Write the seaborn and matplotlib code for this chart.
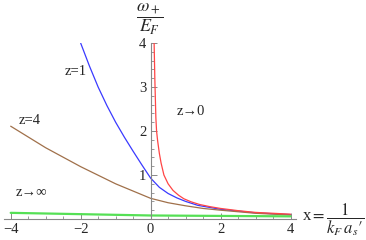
import numpy as np
import pandas as pd
import seaborn as sns
import matplotlib
matplotlib.use('Agg')
import matplotlib.pyplot as plt
from matplotlib.ticker import MultipleLocator

# values
x_z1 = [-2.0, -1.75, -1.5, -1.25, -1.0, -0.75, -0.5, -0.25, 0.0, 0.25, 0.5, 0.75, 1.0, 1.35, 2.0, 3.0, 4.0]
y_z1 = [4.0, 3.48, 3.0, 2.58, 2.2, 1.86, 1.54, 1.23, 0.93, 0.72, 0.58, 0.48, 0.4, 0.31, 0.22, 0.14, 0.1]

x_z4 = [-4.0, -3.0, -2.0, -1.0, 0.0, 0.5, 1.0, 1.5, 2.0, 3.0, 4.0]
y_z4 = [2.11, 1.62, 1.19, 0.8, 0.47, 0.37, 0.3, 0.24, 0.2, 0.13, 0.09]

x_zinf = [-4.0, -2.0, 0.0, 2.0, 4.0]
y_zinf = [0.14, 0.11, 0.08, 0.07, 0.06]

x_z0 = [0.1, 0.12, 0.15, 0.17, 0.2, 0.25, 0.3, 0.38, 0.5, 0.64, 0.8, 0.95, 1.16, 1.4, 1.7, 2.0, 2.5, 3.0, 4.0]
y_z0 = [4.0, 3.2, 2.3, 2.0, 1.78, 1.49, 1.27, 1.0, 0.8, 0.65, 0.54, 0.46, 0.39, 0.33, 0.28, 0.24, 0.19, 0.15, 0.11]

x_ticks = [-4, -2, 0, 2, 4]
x_ticklabels = ['\u22124', '\u22122', '0', '2', '4']
y_ticks = [1, 2, 3, 4]

curves = {
    'z=1': (x_z1, y_z1),
    'z=4': (x_z4, y_z4),
    'zinf': (x_zinf, y_zinf),
    'z0': (x_z0, y_z0),
}
frames = []
for name, (xs, ys) in curves.items():
    frames.append(pd.DataFrame({'x': xs, 'y': ys, 'curve': name}))
df = pd.concat(frames, ignore_index=True)

palette = {'z=1': '#3a3aff', 'z=4': '#a0704a', 'zinf': '#55e055', 'z0': '#ff4545'}

sns.set_style('white')
plt.rcParams['font.family'] = ['Liberation Serif', 'DejaVu Serif']
plt.rcParams['mathtext.fontset'] = 'stix'

fig = plt.figure(figsize=(3.66, 2.4), dpi=100)
ax = fig.add_axes([0.0101, 0.0875, 0.800, 0.733])

sns.lineplot(data=df[df.curve != 'zinf'], x='x', y='y', hue='curve', palette=palette,
             linewidth=0.9, legend=False, ax=ax, estimator=None)
sns.lineplot(data=df[df.curve == 'zinf'], x='x', y='y', color=palette['zinf'],
             linewidth=1.6, legend=False, ax=ax, estimator=None)

ax.set_xlim(-4.2, 4.17)
ax.set_ylim(0, 4.0)
ax.set_xlabel('')
ax.set_ylabel('')

for side in ['top', 'right']:
    ax.spines[side].set_visible(False)
ax.spines['left'].set_position(('data', 0))
ax.spines['bottom'].set_position(('data', 0))
for side in ['left', 'bottom']:
    ax.spines[side].set_color('#888888')
    ax.spines[side].set_linewidth(0.8)

ax.set_xticks(x_ticks)
ax.set_xticklabels(x_ticklabels)
ax.set_yticks(y_ticks)
ax.xaxis.set_minor_locator(MultipleLocator(0.5))
ax.yaxis.set_minor_locator(MultipleLocator(0.2))
ax.tick_params(which='major', direction='in', length=4, width=0.7, color='#888888',
               labelsize=10.5, pad=3)
ax.tick_params(which='minor', direction='in', length=2, width=0.6, color='#888888')
ax.tick_params(axis='both', which='both', bottom=True, left=True)

fs = 10.5
ax.text(-2.15, 3.35, 'z=1', fontsize=fs, ha='center', va='center')
ax.text(-3.45, 2.25, 'z=4', fontsize=fs, ha='center', va='center')
ax.text(-3.4, 0.6, 'z\u2192\u221e', fontsize=fs, ha='center', va='center')
ax.text(1.15, 2.45, 'z\u21920', fontsize=fs, ha='center', va='center')

fig.text(150 / 366, 1 - 19 / 240, r'$\dfrac{\omega_+}{E_F}$', fontsize=13,
         ha='center', va='center')
fig.text(302 / 366, 1 - 220 / 240, 'x$=\\dfrac{1}{k_F\\,a_s\u2032}$', fontsize=12,
         ha='left', va='center')

fig.savefig('out.png', dpi=100)
